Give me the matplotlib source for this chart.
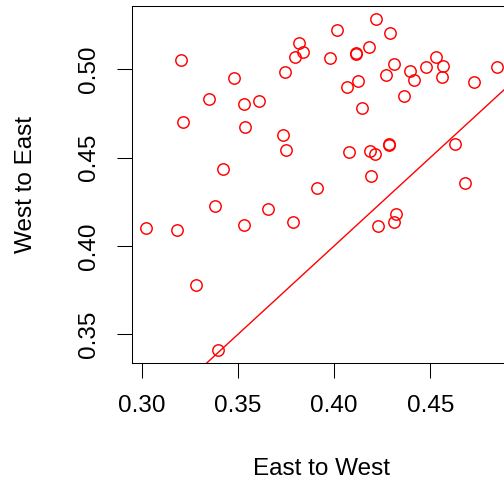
import numpy as np
import matplotlib
matplotlib.use('Agg')
import matplotlib.pyplot as plt

plt.rcParams['font.family'] = ['Liberation Sans', 'DejaVu Sans']

# East to West (x) vs West to East (y)
east_west = [0.3021, 0.3183, 0.3201, 0.3215, 0.3279, 0.3350, 0.3395, 0.3379,
             0.3423, 0.3477, 0.3532, 0.3534, 0.3532, 0.3607, 0.3656, 0.3733,
             0.3750, 0.3742, 0.3785, 0.3797, 0.3818, 0.3838, 0.3910, 0.3979,
             0.4015, 0.4067, 0.4076, 0.4116, 0.4116, 0.4126, 0.4143, 0.4180,
             0.4185, 0.4194, 0.4211, 0.4220, 0.4228, 0.4268, 0.4284, 0.4287,
             0.4289, 0.4310, 0.4310, 0.4322, 0.4362, 0.4397, 0.4414, 0.4476,
             0.4532, 0.4566, 0.4563, 0.4628, 0.4680, 0.4726, 0.4847]
west_east = [0.4100, 0.4092, 0.5053, 0.4702, 0.3780, 0.4834, 0.3409, 0.4226,
             0.4434, 0.4949, 0.4804, 0.4672, 0.4120, 0.4822, 0.4211, 0.4630,
             0.4541, 0.4986, 0.4135, 0.5068, 0.5147, 0.5096, 0.4328, 0.5062,
             0.5221, 0.4901, 0.4533, 0.5094, 0.5085, 0.4935, 0.4779, 0.5125,
             0.4539, 0.4394, 0.4520, 0.5285, 0.4113, 0.4966, 0.4577, 0.4573,
             0.5207, 0.5030, 0.4134, 0.4182, 0.4849, 0.4989, 0.4941, 0.5011,
             0.5071, 0.5019, 0.4958, 0.4579, 0.4354, 0.4930, 0.5013]

x_ticks = [0.30, 0.35, 0.40, 0.45]
y_ticks = [0.35, 0.40, 0.45, 0.50]

fig = plt.figure(figsize=(5.04, 4.86), dpi=100)
ax = fig.add_axes([132 / 504, 1 - 363.5 / 486, 379 / 504, 357.8 / 486])

ax.plot(east_west, west_east, 'o', mfc='none', mec='red', ms=8.2, mew=1.05)
ax.axline((0, 0), slope=1, color='red', lw=1.0)

ax.set_xlim(0.2948, 0.492)
ax.set_ylim(0.3334, 0.536)
ax.set_xticks(x_ticks)
ax.set_yticks(y_ticks)
ax.set_xticklabels([f'{v:.2f}' for v in x_ticks])
ax.set_yticklabels([f'{v:.2f}' for v in y_ticks], rotation=90, va='center')
ax.tick_params(labelsize=17.5, length=10.8, width=0.75, pad=12)

for s in ax.spines.values():
    s.set_linewidth(0.75)

ax.set_xlabel('East to West', fontsize=17.5)
ax.set_ylabel('West to East', fontsize=17.5)
ax.xaxis.label.set_va('center')
ax.yaxis.label.set_va('center')
ax.xaxis.set_label_coords(0.5, -0.296)
ax.yaxis.set_label_coords(-0.28, 0.5)

fig.savefig('out.png', dpi=100)
